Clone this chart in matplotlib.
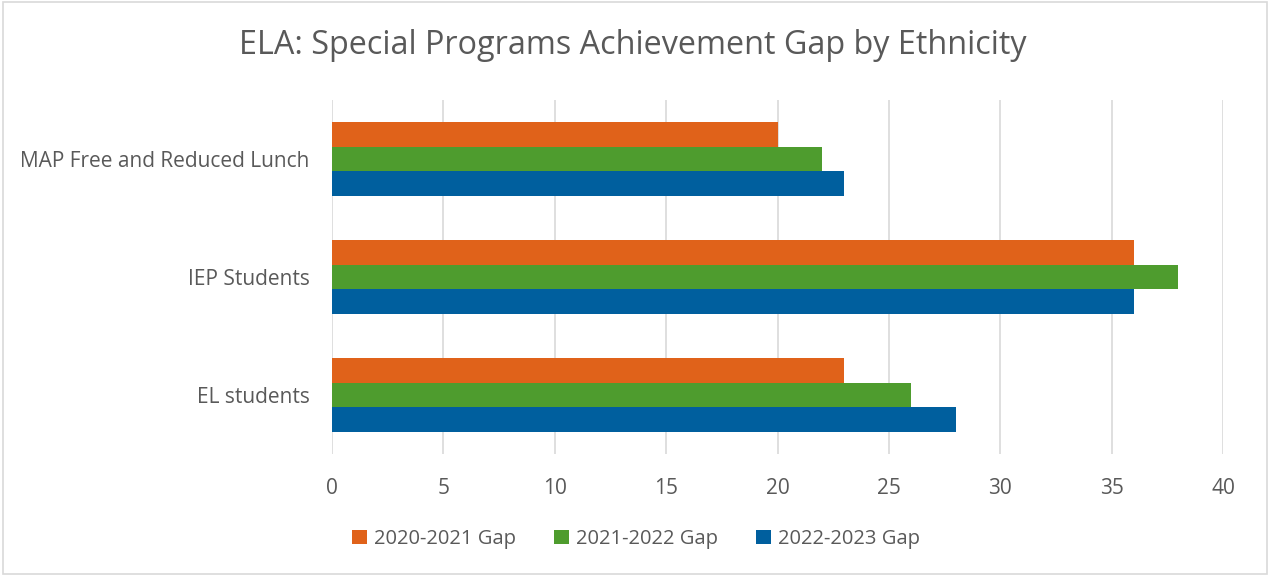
import matplotlib.pyplot as plt
import numpy as np
from matplotlib.patches import Rectangle

categories = ['MAP Free and Reduced Lunch', 'IEP Students', 'EL students']
gap_2021 = [20, 36, 23]
gap_2022 = [22, 38, 26]
gap_2023 = [23, 36, 28]
series_names = ['2020-2021 Gap', '2021-2022 Gap', '2022-2023 Gap']
colors = ['#E0621A', '#4E9C2E', '#005F9E']
xticks = [0, 5, 10, 15, 20, 25, 30, 35, 40]

txt = '#595959'
plt.rcParams['font.family'] = ['Open Sans', 'DejaVu Sans']

fig = plt.figure(figsize=(12.72, 5.75), dpi=100)
ax = fig.add_axes([332/1272, 1-454/575, (1223-332)/1272, (454-100)/575])

y = np.arange(len(categories))       # top to bottom
h = 0.209
for k, vals in enumerate([gap_2021, gap_2022, gap_2023]):
    ax.barh(y + (k-1)*h, vals, height=h, color=colors[k], label=series_names[k], zorder=2)

ax.set_ylim(len(categories)-0.5, -0.5)
ax.set_xlim(0, 40)
ax.set_xticks(xticks)
ax.set_yticks(y)
ax.set_yticklabels(categories)
ax.grid(axis='x', color='#D9D9D9', linewidth=1.2, zorder=0)
ax.tick_params(axis='both', length=0, labelsize=15, colors=txt)
ax.tick_params(axis='x', pad=17.5)
ax.tick_params(axis='y', pad=16)
for s in ax.spines.values():
    s.set_visible(False)

fig.text(0.4976, 1-46/575, 'ELA: Special Programs Achievement Gap by Ethnicity',
         ha='center', va='center', fontsize=23.3, color=txt)

leg = fig.legend(loc='center', bbox_to_anchor=(0.5, 1-539/575), ncol=3, frameon=False,
                 fontsize=14.5, handlelength=0.75, handleheight=0.75, handletextpad=0.35,
                 columnspacing=1.9)
for t in leg.get_texts():
    t.set_color(txt)

# light border round the chart
fig.patches.append(Rectangle((0.002, 0.002), 0.994, 0.994, transform=fig.transFigure,
                             fill=False, edgecolor='#D9D9D9', linewidth=1.2))

fig.savefig('out.png', dpi=100)
